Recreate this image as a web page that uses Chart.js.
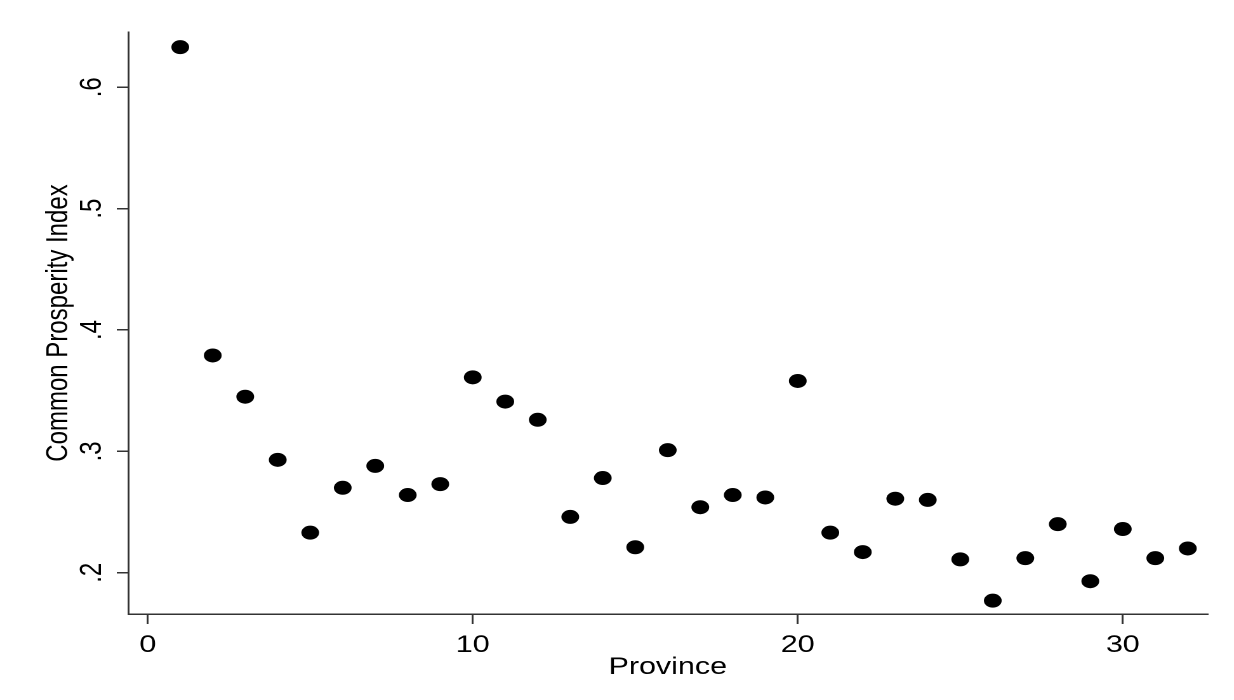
<!DOCTYPE html>
<html>
<head>
<meta charset="utf-8">
<script src="https://cdn.jsdelivr.net/npm/chart.js@4/dist/chart.umd.min.js"></script>
<style>
  html, body { margin: 0; padding: 0; background: #fff; overflow: hidden; }
  #wrap { width: 972px; height: 700px; transform: scaleX(1.2695); transform-origin: 0 0; }
</style>
</head>
<body>
<div id="wrap"><canvas id="myChart"></canvas></div>
<script>
// province number and index value
const provinces = [1, 2, 3, 4, 5, 6, 7, 8, 9, 10, 11, 12, 13, 14, 15, 16,
    17, 18, 19, 20, 21, 22, 23, 24, 25, 26, 27, 28, 29, 30, 31, 32];
const indexValues = [0.633, 0.379, 0.345, 0.293, 0.233, 0.270, 0.288, 0.264,
    0.273, 0.361, 0.341, 0.326, 0.246, 0.278, 0.221, 0.301,
    0.254, 0.264, 0.262, 0.358, 0.233, 0.217, 0.261, 0.260,
    0.211, 0.177, 0.212, 0.240, 0.193, 0.236, 0.212, 0.220];
const xTicks = [0, 10, 20, 30];
const yTicks = [0.2, 0.3, 0.4, 0.5, 0.6];

document.addEventListener("DOMContentLoaded", () => {
    const ctx = document.getElementById("myChart").getContext("2d");
    const axisColor = "#333333";
    const font = { family: "Liberation Sans, Arial, sans-serif", size: 24 };

    new Chart(ctx, {
        type: "scatter",
        data: {
            datasets: [{
                data: provinces.map((p, i) => ({ x: p, y: indexValues[i] })),
                backgroundColor: "#000000",
                borderWidth: 0,
                pointRadius: 7,
                pointHoverRadius: 7,
            }],
        },
        options: {
            responsive: true,
            maintainAspectRatio: false,
            animation: false,
            devicePixelRatio: 2,
            layout: { padding: { top: 32, right: 21, left: 0, bottom: 0 } },
            plugins: {
                legend: { display: false },
                tooltip: { enabled: false },
            },
            scales: {
                x: {
                    type: "linear",
                    min: -0.6,
                    max: 32.6,
                    afterBuildTicks: (scale) => {
                        scale.ticks = xTicks.map((v) => ({ value: v }));
                    },
                    afterFit: (scale) => { scale.height = 86; },
                    border: { display: true, color: axisColor, width: 1.5 },
                    grid: { drawOnChartArea: false, drawTicks: true, tickLength: 10, color: axisColor, lineWidth: 1.5 },
                    ticks: { color: "#000", font: font, padding: 7, maxRotation: 0 },
                    title: { display: true, text: "Province", color: "#000", font: font, padding: { top: 0, bottom: 18 } },
                },
                y: {
                    type: "linear",
                    min: 0.166,
                    max: 0.6455,
                    afterBuildTicks: (scale) => {
                        scale.ticks = yTicks.map((v) => ({ value: v }));
                    },
                    afterFit: (scale) => { scale.width = 101; },
                    border: { display: true, color: axisColor, width: 1.5 },
                    grid: { drawOnChartArea: false, drawTicks: true, tickLength: 9, color: axisColor, lineWidth: 1.5 },
                    ticks: {
                        color: "#000",
                        font: font,
                        padding: 9,
                        minRotation: 90,
                        maxRotation: 90,
                        crossAlign: "center",
                        callback: (v) => v.toFixed(1).replace(/^0/, ""),
                    },
                    title: { display: true, text: "Common Prosperity Index", color: "#000", font: font, padding: { top: 32, bottom: 0 } },
                },
            },
        },
    });
});
</script>
</body>
</html>
